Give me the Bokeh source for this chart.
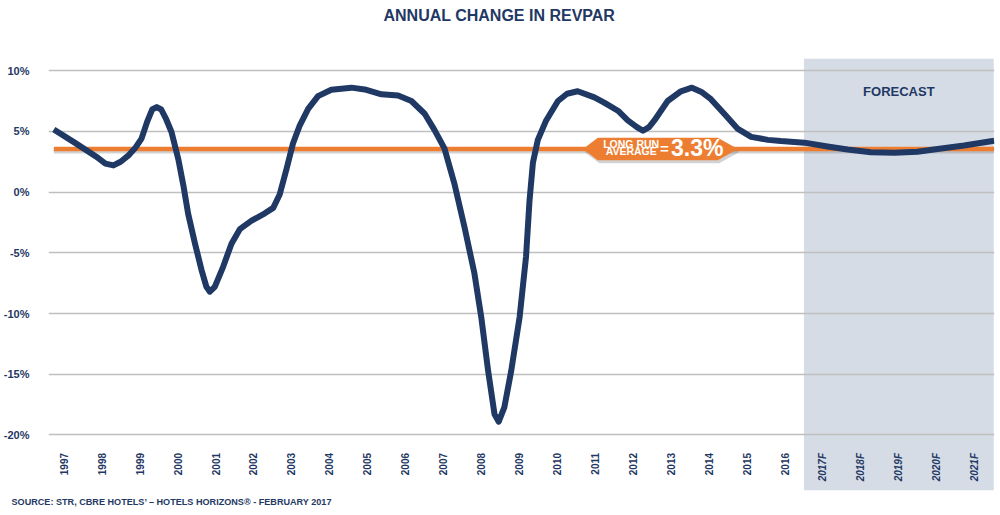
import numpy as np
from bokeh.plotting import figure
from bokeh.models import (FixedTicker, PrintfTickFormatter, BoxAnnotation,
                          Title, Range1d)
from bokeh.core.properties import value
from bokeh.embed import file_html
from bokeh.resources import INLINE

# ---------------- data ----------------
title_text = "ANNUAL CHANGE IN REVPAR"
source_text = "SOURCE: STR, CBRE HOTELS\u2019 \u2013 HOTELS HORIZONS\u00ae - FEBRUARY 2017"
forecast_text = "FORECAST"

actual_years = [1997, 1998, 1999, 2000, 2001, 2002, 2003, 2004, 2005, 2006,
                2007, 2008, 2009, 2010, 2011, 2012, 2013, 2014, 2015, 2016]
actual_labels = [str(y) for y in actual_years]
forecast_years = [2017, 2018, 2019, 2020, 2021]
forecast_labels = ["2017F", "2018F", "2019F", "2020F", "2021F"]
forecast_start = 2016.5
forecast_end = 2021.5

y_ticks = [-20, -15, -10, -5, 0, 5, 10]

# annual change in RevPAR (%)
revpar_x = [1996.74, 1997.30, 1997.91, 1998.10, 1998.31, 1998.50, 1998.70, 1998.90,
            1999.05, 1999.20, 1999.33, 1999.45, 1999.57, 1999.70, 1999.84,
            2000.02, 2000.15, 2000.28, 2000.46, 2000.63, 2000.76, 2000.85, 2000.98,
            2001.20, 2001.42, 2001.64, 2001.95, 2002.30, 2002.52, 2002.69, 2002.87,
            2003.04, 2003.22, 2003.44, 2003.70, 2004.05, 2004.58, 2004.93, 2005.37,
            2005.81, 2006.16, 2006.51, 2006.77, 2007.03, 2007.30, 2007.56, 2007.82,
            2008.00, 2008.18, 2008.35, 2008.46, 2008.61, 2008.79, 2009.01, 2009.18,
            2009.27, 2009.36, 2009.49, 2009.71, 2010.02, 2010.26, 2010.54, 2010.98,
            2011.25, 2011.60, 2011.86, 2012.10, 2012.26, 2012.42, 2012.56, 2012.91,
            2013.26, 2013.55, 2013.80, 2014.05, 2014.40, 2014.76, 2015.11, 2015.55,
            2015.89, 2016.51, 2017.12, 2017.65, 2018.26, 2018.88, 2019.49, 2020.02,
            2020.72, 2021.51]
revpar_y = [5.15, 4.05, 2.8, 2.35, 2.2, 2.5, 3.0, 3.7,
            4.4, 5.8, 6.8, 7.0, 6.8, 6.0, 4.95,
            2.7, 0.6, -1.8, -4.25, -6.4, -7.8, -8.2, -7.8,
            -6.15, -4.25, -3.05, -2.35, -1.75, -1.3, -0.2, 1.9,
            4.0, 5.5, 6.85, 7.9, 8.43, 8.6, 8.45, 8.05,
            7.95, 7.5, 6.45, 5.1, 3.6, 0.6, -2.9, -6.7,
            -10.3, -14.7, -18.3, -18.9, -17.7, -14.7, -10.3, -5.3,
            -0.75, 2.4, 4.3, 5.9, 7.5, 8.1, 8.3, 7.8,
            7.35, 6.7, 5.9, 5.35, 5.05, 5.35, 5.9, 7.5,
            8.3, 8.6, 8.25, 7.65, 6.45, 5.2, 4.55, 4.3,
            4.2, 4.07, 3.75, 3.5, 3.28, 3.23, 3.33, 3.55,
            3.83, 4.23]

long_run_avg = 3.55          # drawn level of the orange line
long_run_label_1 = "LONG RUN"
long_run_label_2 = "AVERAGE"
long_run_value_text = "3.3%"

# ---------------- styles / positions ----------------
NAVY = "#1F3864"
ORANGE = "#ED7D31"
GRID = "#BFBFBF"
SHADE = "#D6DCE5"
FONT = "Liberation Sans"

X0, X1 = 1996.6, 2021.52
Y0, Y1 = -24.57, 11.0
LABEL_Y = -21.48

BANNER_X = (2010.68, 2011.07, 2014.23, 2014.76)
BANNER_HALF_H = 0.93

p = figure(width=1000, height=515, x_range=Range1d(X0, X1), y_range=Range1d(Y0, Y1),
           output_backend="svg", toolbar_location=None,
           min_border_left=47, min_border_right=6, min_border_top=58, min_border_bottom=25,
           background_fill_color="white", border_fill_color="white")
p.outline_line_color = None

# title (empty second line lifts the title inside the top border)
p.title.text = title_text + "\n"
p.title.align = "left"
p.title.offset = 335
p.title.standoff = 2
p.title.text_line_height = 1.95
p.title.text_font = FONT
p.title.text_font_size = "16px"
p.title.text_font_style = "bold"
p.title.text_color = NAVY

src = Title(text=source_text, align="left", offset=-37, standoff=8,
            text_font=FONT, text_font_size="9.1px", text_font_style="bold",
            text_color=NAVY)
p.add_layout(src, "below")

# axes
p.xaxis.visible = False
p.xgrid.visible = False
p.yaxis.ticker = FixedTicker(ticks=y_ticks)
p.ygrid.ticker = FixedTicker(ticks=y_ticks)
p.yaxis.formatter = PrintfTickFormatter(format="%d%%")
p.yaxis.axis_line_color = None
p.yaxis.major_tick_line_color = None
p.yaxis.minor_tick_line_color = None
p.yaxis.major_label_standoff = 13
p.yaxis.major_label_text_font = FONT
p.yaxis.major_label_text_font_size = "11px"
p.yaxis.major_label_text_font_style = "bold"
p.yaxis.major_label_text_color = NAVY
p.ygrid.grid_line_color = GRID
p.ygrid.grid_line_width = 1.5

# forecast shading
p.add_layout(BoxAnnotation(left=forecast_start, right=forecast_end,
                           fill_color=SHADE, fill_alpha=1.0, line_color=None,
                           level="image"))

# x labels
p.text(x=actual_years, y=[LABEL_Y] * len(actual_years), text=actual_labels,
       angle=np.pi / 2, text_align="right", text_baseline="middle",
       text_font=value(FONT), text_font_size=value("10px"), text_font_style="bold",
       text_color=NAVY)
p.text(x=forecast_years, y=[LABEL_Y] * len(forecast_years), text=forecast_labels,
       angle=np.pi / 2, text_align="right", text_baseline="middle",
       text_font=value(FONT), text_font_size=value("10px"), text_font_style="bold italic",
       text_color=NAVY)

p.text(x=[2019.0], y=[8.3], text=[forecast_text], text_align="center",
       text_baseline="middle", text_font=value(FONT), text_font_size=value("13px"),
       text_font_style="bold", text_color=NAVY)

# long-run average line with soft shadow
ax = [revpar_x[0], revpar_x[-1]]
p.line(ax, [long_run_avg - 0.2] * 2, line_color="#7F7F7F", line_alpha=0.35, line_width=4)
p.line(ax, [long_run_avg] * 2, line_color=ORANGE, line_width=4.5)

# RevPAR line
p.line(revpar_x, revpar_y, line_color=NAVY, line_width=6, line_join="round")

# banner
bx = [BANNER_X[0], BANNER_X[1], BANNER_X[2], BANNER_X[3], BANNER_X[2], BANNER_X[1]]
by = [long_run_avg, long_run_avg + BANNER_HALF_H, long_run_avg + BANNER_HALF_H,
      long_run_avg, long_run_avg - BANNER_HALF_H, long_run_avg - BANNER_HALF_H]
p.patch([v + 0.04 for v in bx], [v - 0.25 for v in by], fill_color="#7F7F7F",
        fill_alpha=0.35, line_color=None)
p.patch(bx, by, fill_color=ORANGE, line_color=None)

p.text(x=[2011.95], y=[long_run_avg + 0.38], text=[long_run_label_1], text_align="center",
       text_baseline="middle", text_font=value(FONT), text_font_size=value("10.5px"),
       text_font_style="bold", text_color="white")
p.text(x=[2011.95], y=[long_run_avg - 0.2], text=[long_run_label_2], text_align="center",
       text_baseline="middle", text_font=value(FONT), text_font_size=value("10.5px"),
       text_font_style="bold", text_color="white")
p.text(x=[2012.71], y=[long_run_avg], text=["="], text_align="left",
       text_baseline="middle", text_font=value(FONT), text_font_size=value("15px"),
       text_font_style="bold", text_color="white")
p.text(x=[2013.0], y=[long_run_avg + 0.05], text=[long_run_value_text], text_align="left",
       text_baseline="middle", text_font=value(FONT), text_font_size=value("23px"),
       text_font_style="bold", text_color="white")

open("out.html", "w").write(file_html(p, INLINE))
